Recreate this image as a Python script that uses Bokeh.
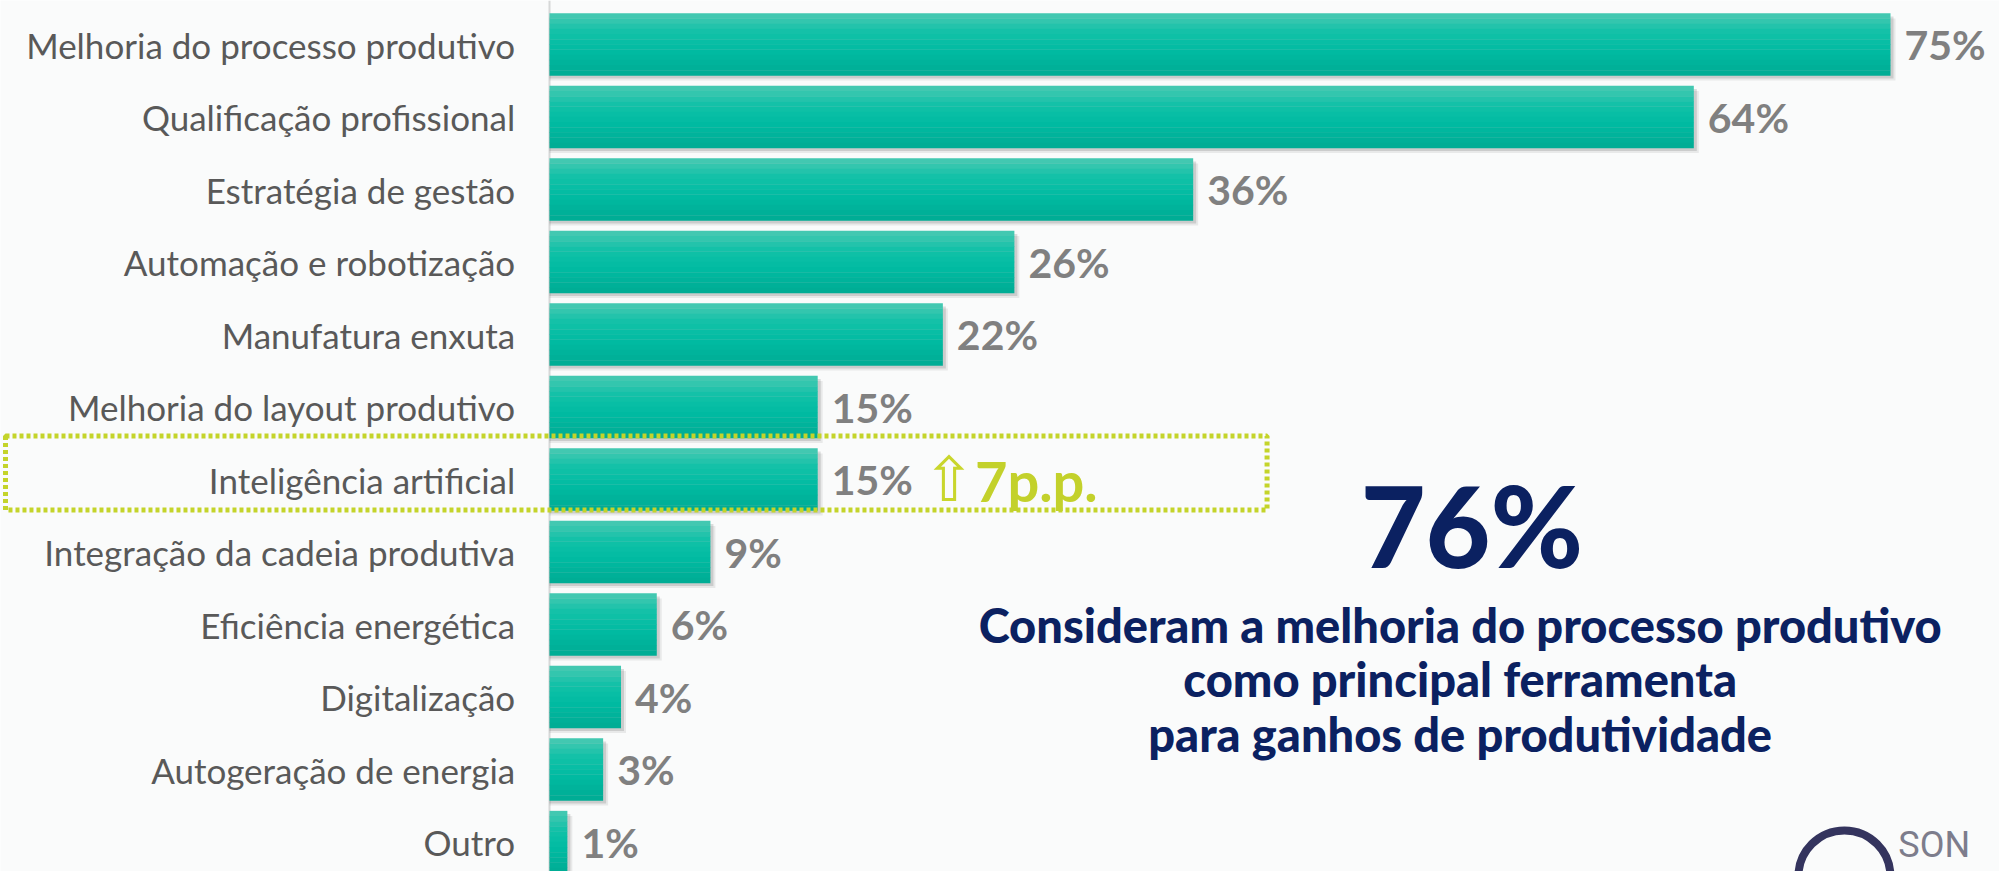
from bokeh.plotting import figure
from bokeh.models import Range1d, ColumnDataSource, Span, BoxAnnotation, Label
from bokeh.transform import dodge
from bokeh.core.properties import value
from bokeh.embed import file_html
from bokeh.resources import INLINE

# ---------------- data ----------------
categories = [
    "Melhoria do processo produtivo",
    "Qualificação profissional",
    "Estratégia de gestão",
    "Automação e robotização",
    "Manufatura enxuta",
    "Melhoria do layout produtivo",
    "Inteligência artificial",
    "Integração da cadeia produtiva",
    "Eficiência energética",
    "Digitalização",
    "Autogeração de energia",
    "Outro",
]
values = [75, 64, 36, 26, 22, 15, 15, 9, 6, 4, 3, 1]
value_labels = [f"{v}%" for v in values]
rows = list(range(len(categories)))

highlight_row = 6
highlight_text = "7p.p."
headline = "76%"
subtitle = [
    "Consideram a melhoria do processo produtivo",
    "como principal ferramenta",
    "para ganhos de produtividade",
]

# ---------------- geometry ----------------
W, H = 1999, 871
PX_X = 17.88          # pixels per percentage point
X0 = 549              # pixel of x = 0
ROW = 72.5            # pixels per row
ROW0 = 44.0           # pixel of first row centre
px = 1.0 / PX_X
py = 1.0 / ROW

# helpers: position in data units from a position measured on the reference layout
def dx(pix):
    return (pix - 549) / 18.24

def dy(pix):
    return (pix - 45.5) / 73.6

x_start = -X0 / PX_X
x_end = x_start + W / PX_X
y_top = -ROW0 / ROW
y_bottom = y_top + H / ROW

BG = "#fafbfb"
p = figure(width=W, height=H,
           x_range=Range1d(x_start, x_end),
           y_range=Range1d(y_bottom, y_top),
           x_axis_location=None, y_axis_location=None,
           output_backend="svg", toolbar_location=None,
           background_fill_color=BG, border_fill_color=BG)
p.min_border = 0
p.min_border_left = 0
p.min_border_right = 0
p.min_border_top = 0
p.min_border_bottom = 0
p.grid.visible = False
p.outline_line_color = None

src = ColumnDataSource(dict(y=rows, v=values, cat=categories, lab=value_labels))

# axis line
p.add_layout(Span(location=0, dimension="height", line_color="#d6d8d8",
                  line_width=2, level="underlay"))

BH = 62 / ROW

# shadows
p.hbar(y=dodge("y", 5 * py), left=0, right=dodge("v", 5 * px), height=BH,
       source=src, fill_color="#000000", fill_alpha=0.07, line_color=None)
p.hbar(y=dodge("y", 3 * py), left=0, right=dodge("v", 3 * px), height=BH,
       source=src, fill_color="#000000", fill_alpha=0.12, line_color=None)

# gradient bars (vertical gradient in slices)
stops = [(0.0, (0x4a, 0xc9, 0xb3)), (0.3, (0x12, 0xc1, 0xa8)),
         (0.6, (0x00, 0xbb, 0xa2)), (1.0, (0x00, 0xab, 0x93))]

def grad(t):
    for (t0, c0), (t1, c1) in zip(stops[:-1], stops[1:]):
        if t0 <= t <= t1:
            f = (t - t0) / (t1 - t0)
            return "#%02x%02x%02x" % tuple(int(round(a + (b - a) * f)) for a, b in zip(c0, c1))
    return "#00ab93"

N = 12
for k in range(N):
    off = -BH / 2 + (k + 0.5) * BH / N
    p.hbar(y=dodge("y", off), left=0, right="v", height=BH / N * 1.06,
           source=src, fill_color=grad((k + 0.5) / N), line_color=None)

# category labels
p.text(x=dx(514), y="y", text="cat", source=src, text_align="right",
       text_baseline="middle", text_font=value("Lato"),
       text_font_size="35px", text_color="#595959")

# value labels
p.text(x="v", y="y", text="lab", source=src, x_offset=14,
       text_align="left", text_baseline="middle", text_font=value("Lato"),
       text_font_style="bold", text_font_size="41px", text_color="#808080")

# highlight box
p.add_layout(BoxAnnotation(left=(5 - X0) / PX_X, right=dx(1281), top=dy(443), bottom=dy(518),
                           fill_alpha=0, line_color="#c4d42a", line_alpha=1.0,
                           line_width=5, line_dash="4 3"))

p.add_layout(Label(x=dx(930), y=dy(487), text="\u21e7", text_font="DejaVu Sans",
                   text_font_size="62px", text_color="#c9d62c", text_align="left",
                   text_baseline="middle"))
p.add_layout(Label(x=dx(983), y=dy(488), text=highlight_text, text_font="Lato",
                   text_font_style="bold", text_font_size="56px", text_color="#c3d12b",
                   text_align="left", text_baseline="middle"))

NAVY = "#0b2161"
p.add_layout(Label(x=dx(1490), y=dy(533), text=headline, text_font="Lato Black",
                   text_font_size="112px", text_color=NAVY, text_align="center",
                   text_baseline="middle"))
for line, yy in zip(subtitle, [635, 690, 745]):
    p.add_layout(Label(x=dx(1478), y=dy(yy), text=line, text_font="Lato Black",
                       text_font_size="47px", text_color=NAVY, text_align="center",
                       text_baseline="middle"))

# logo fragment
p.scatter(x=[dx(1870)], y=[dy(890)], size=92, marker="circle", fill_color=None,
          line_color="#34345e", line_width=8)
p.add_layout(Label(x=dx(1925), y=dy(858), text="SON", text_font="Roboto",
                   text_font_size="36px", text_color="#7d7d8c", text_align="left",
                   text_baseline="middle"))

open("out.html", "w").write(file_html(p, INLINE))
